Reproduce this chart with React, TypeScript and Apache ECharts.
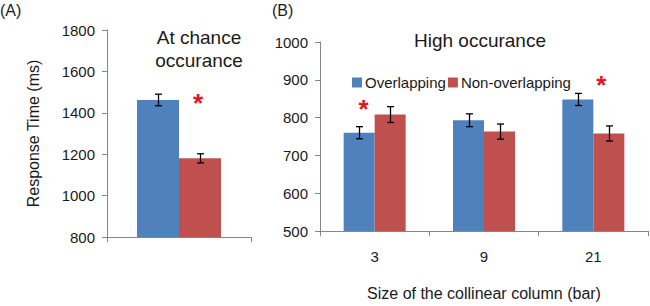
import React, { useEffect, useRef } from 'react';
import * as echarts from 'echarts';

// ---- data ----
const chanceCategories = [''];
const chanceOverlapping = [1462];
const chanceOverlappingErr = [28];
const chanceNonOverlapping = [1180];
const chanceNonOverlappingErr = [22];

const highCategories = ['3', '9', '21'];
const highOverlapping = [760, 793, 848];
const highOverlappingErr = [16, 17, 16];
const highNonOverlapping = [808, 763, 758];
const highNonOverlappingErr = [21, 20, 20];

const chanceAxis = { min: 800, max: 1800, interval: 200 };
const highAxis = { min: 500, max: 1000, interval: 100 };

// significance markers: [categoryIndex, value]
const chanceStars = [[0, 1476]];
const highStars = [[0, 838], [2, 903]];

const seriesNames = ['Overlapping', 'Non-overlapping'];

const BLUE = '#4F81BD';
const RED = '#C0504D';
const AXIS = '#868686';
const TXT = '#1a1a1a';
const FONT = '"Liberation Sans", Arial, sans-serif';

function errorSeries(name: string, xi: number, vals: number[], errs: number[], side: number, bw: number) {
  return {
    type: 'custom',
    name: name + ' err',
    xAxisIndex: xi,
    yAxisIndex: xi,
    z: 10,
    silent: true,
    data: vals.map((v, i) => [i, v, errs[i]]),
    renderItem: (params: any, api: any) => {
      const c = api.value(0);
      const v = api.value(1);
      const e = api.value(2);
      const p = api.coord([c, v]);
      const x = Math.round(p[0] + (side * bw) / 2) + 0.5;
      const t = api.coord([c, v + e])[1];
      const b = api.coord([c, v - e])[1];
      const st = { stroke: '#000', lineWidth: 1.3 };
      return {
        type: 'group',
        children: [
          { type: 'line', shape: { x1: x, y1: t, x2: x, y2: b }, style: st },
          { type: 'line', shape: { x1: x - 3.5, y1: t, x2: x + 3.5, y2: t }, style: st },
          { type: 'line', shape: { x1: x - 3.5, y1: b, x2: x + 3.5, y2: b }, style: st },
        ],
      };
    },
  };
}

function starSeries(xi: number, stars: number[][], dx: number[]) {
  return {
    type: 'custom',
    name: 'stars' + xi,
    xAxisIndex: xi,
    yAxisIndex: xi,
    z: 11,
    silent: true,
    data: stars,
    renderItem: (params: any, api: any) => {
      const p = api.coord([api.value(0), api.value(1)]);
      return {
        type: 'text',
        x: p[0] + dx[params.dataIndex],
        y: p[1] + 6,
        style: {
          text: '*',
          fill: '#E8141B',
          font: 'bold 26px ' + FONT,
          align: 'center',
          verticalAlign: 'middle',
        },
      };
    },
  };
}

export default function App() {
  const ref = useRef<HTMLDivElement>(null);
  useEffect(() => {
    document.body.style.margin = '0';
    const chart = echarts.init(ref.current!, null, { renderer: 'svg' });
    const axisLabel = { color: TXT, fontSize: 15, fontFamily: FONT };
    const yAxisCommon = {
      type: 'value',
      splitLine: { show: false },
      axisLine: { show: true, lineStyle: { color: AXIS } },
      axisTick: { show: true, length: 5, lineStyle: { color: AXIS } },
      axisLabel: { ...axisLabel, margin: 12, formatter: (v: number) => String(v) },
    };
    const xAxisCommon = {
      type: 'category',
      axisLine: { show: true, lineStyle: { color: AXIS } },
      axisTick: { show: true, length: 5, lineStyle: { color: AXIS } },
      axisLabel: { ...axisLabel, margin: 18 },
    };
    chart.setOption({
      animation: false,
      textStyle: { fontFamily: FONT },
      title: [
        { text: '(A)', left: 0, top: 2, padding: 0, textStyle: { fontSize: 16, fontWeight: 'normal', color: TXT, fontFamily: FONT } },
        { text: '(B)', left: 272, top: 2, padding: 0, textStyle: { fontSize: 16, fontWeight: 'normal', color: TXT, fontFamily: FONT } },
        {
          text: 'At chance\noccurance', left: 199, top: 26, padding: 0, textAlign: 'center',
          textStyle: { fontSize: 19, lineHeight: 23, fontWeight: 'normal', color: TXT, fontFamily: FONT },
        },
        {
          text: 'High occurance', left: 480, top: 31, padding: 0, textAlign: 'center',
          textStyle: { fontSize: 19, fontWeight: 'normal', color: TXT, fontFamily: FONT },
        },
      ],
      legend: {
        data: seriesNames,
        left: 352,
        top: 75,
        padding: 0,
        itemWidth: 10,
        itemHeight: 10,
        itemGap: 2,
        icon: 'rect',
        textStyle: { fontSize: 15, color: TXT, fontFamily: FONT, padding: [0, 0, 0, -2] },
      },
      grid: [
        { left: 107, top: 30, width: 144, height: 207 },
        { left: 320, top: 42, width: 328, height: 195 },
      ],
      xAxis: [
        { ...xAxisCommon, gridIndex: 0, data: chanceCategories },
        {
          ...xAxisCommon, gridIndex: 1, data: highCategories,
          name: 'Size of the collinear column (bar)', nameLocation: 'middle', nameGap: 54,
          nameTextStyle: { fontSize: 16, color: TXT, fontFamily: FONT },
        },
      ],
      yAxis: [
        {
          ...yAxisCommon, gridIndex: 0, ...chanceAxis,
          name: 'Response Time (ms)', nameLocation: 'middle', nameGap: 66,
          nameTextStyle: { fontSize: 16, color: TXT, fontFamily: FONT },
        },
        { ...yAxisCommon, gridIndex: 1, ...highAxis },
      ],
      series: [
        { type: 'bar', name: seriesNames[0], xAxisIndex: 0, yAxisIndex: 0, data: chanceOverlapping, barWidth: 42, barGap: '0%', itemStyle: { color: BLUE } },
        { type: 'bar', name: seriesNames[1], xAxisIndex: 0, yAxisIndex: 0, data: chanceNonOverlapping, barWidth: 42, barGap: '0%', itemStyle: { color: RED } },
        { type: 'bar', name: seriesNames[0], xAxisIndex: 1, yAxisIndex: 1, data: highOverlapping, barWidth: 31, barGap: '0%', itemStyle: { color: BLUE } },
        { type: 'bar', name: seriesNames[1], xAxisIndex: 1, yAxisIndex: 1, data: highNonOverlapping, barWidth: 31, barGap: '0%', itemStyle: { color: RED } },
        errorSeries(seriesNames[0], 0, chanceOverlapping, chanceOverlappingErr, -1, 42),
        errorSeries(seriesNames[1], 0, chanceNonOverlapping, chanceNonOverlappingErr, 1, 42),
        errorSeries(seriesNames[0], 1, highOverlapping, highOverlappingErr, -1, 31),
        errorSeries(seriesNames[1], 1, highNonOverlapping, highNonOverlappingErr, 1, 31),
        starSeries(0, chanceStars, [19]),
        starSeries(1, highStars, [-11, 8]),
      ],
    });
    return () => chart.dispose();
  }, []);
  return <div ref={ref} style={{ width: 650, height: 306 }} />;
}
